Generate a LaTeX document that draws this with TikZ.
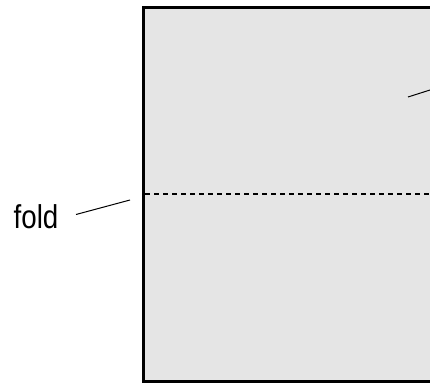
\documentclass[tikz,border=0pt]{standalone}
\usepackage{fontspec}
\setmainfont{Liberation Sans}
\begin{document}
\begin{tikzpicture}[x=1pt,y=-1pt,
  sheet/.style={draw=black,line width=3pt,fill=black!10},
  foldline/.style={line width=1.3pt,dash pattern=on 5pt off 4pt},
  leader/.style={line width=1pt}]
\useasboundingbox (0,0) rectangle (430,385);
\begin{scope}
\clip (0,0) rectangle (430,385);
\draw[sheet] (143.5,8) rectangle (470,381.5);
\end{scope}
\coordinate (fl) at (145,194);
\coordinate (fr) at (430,194);
\draw[foldline] (fl) -- (fr);
\node[font=\fontsize{33}{35}\selectfont, inner sep=0pt, xscale=0.84] (fold) at (36,217) {fold};
\coordinate (fa) at (76,214.5);
\coordinate (fb) at (130,200);
\draw[leader] (fa) -- (fb);
\coordinate (ta) at (408,97);
\coordinate (tb) at (430,90);
\draw[leader] (ta) -- (tb);
\end{tikzpicture}
\end{document}
